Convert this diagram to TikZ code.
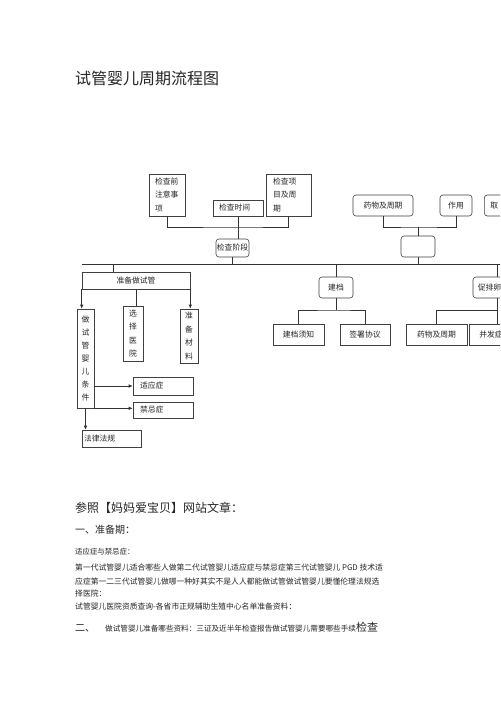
\documentclass[tikz,border=0pt]{standalone}
\usepackage{fontspec}
\setmainfont{Noto Sans CJK SC}
\usetikzlibrary{arrows.meta}

\begin{document}
\begin{tikzpicture}[x=1pt, y=-1pt,
    >={Latex[length=4pt,width=3.5pt]},
    every node/.style={text=black!85},
    caja/.style={draw=black!75, line width=0.6pt, inner sep=0pt, font=\fontsize{7.8}{13.4}\selectfont},
    cajar/.style={caja, rounded corners=3pt},
    linea/.style={black!80, line width=0.6pt},
    texto/.style={anchor=west, inner sep=0pt}]
  \useasboundingbox[fill=white] (0,0) rectangle (500,708);
  \clip (0,0) rectangle (500,708);

  % Titulo
  \node[texto, font=\fontsize{16}{16}\selectfont] (titulo) at (75,78) {试管婴儿周期流程图};

  % Rama superior izquierda
  \node[caja, minimum width=36pt, minimum height=42pt, text width=24pt, align=left] (zhuyi) at (167,195) {检查前\\注意事\\项};
  \node[caja, minimum width=50pt, minimum height=16pt, text width=38pt, align=left] (shijian) at (238,208) {检查时间};
  \node[caja, minimum width=45pt, minimum height=42pt, text width=31pt, align=left] (xiangmu) at (288.5,195) {检查项\\目及周\\期};
  \node[cajar, minimum width=33pt, minimum height=18pt] (jieduan) at (232.5,248) {检查阶段};
  \coordinate (jbar) at (238,227);
  \draw[linea] (zhuyi.south) |- (jbar) -| (xiangmu.south);
  \draw[linea] (shijian.south) -- (shijian.south |- jieduan.north);

  % Rama superior derecha
  \node[cajar, minimum width=60pt, minimum height=21pt] (yaowu) at (383,205.5) {药物及周期};
  \node[cajar, minimum width=32pt, minimum height=21pt] (zuoyong) at (456,205.5) {作用};
  \node[cajar, anchor=west, minimum width=40pt, minimum height=21pt, text width=28pt, align=left] (qu) at (484,205.5) {取};
  \node[cajar, minimum width=34pt, minimum height=21pt] (vacio) at (418,246.5) {};
  \coordinate (rbar) at (418,227);
  \draw[linea] (yaowu.south) |- (rbar) -| (zuoyong.south);
  \draw[linea] (rbar) -- (vacio.north);

  % Linea principal
  \coordinate (mainL) at (82,264);
  \coordinate (mainR) at (505,264);
  \draw[linea] (mainL) -- (mainR);
  \draw[linea] (jieduan.south) -- (jieduan.south |- mainL);
  \draw[linea] (vacio.south) -- (vacio.south |- mainL);

  % Preparacion
  \node[caja, minimum width=108pt, minimum height=17pt] (zhunbei) at (136,280.5) {准备做试管};
  \coordinate (b1) at (113,264);
  \draw[linea] (b1) -- (b1 |- zhunbei.north);
  \node[caja, minimum width=17pt, minimum height=99pt, align=center, font=\fontsize{7.8}{12.9}\selectfont] (tiaojian) at (85.5,358.5) {做\\试\\管\\婴\\儿\\条\\件};
  \node[caja, minimum width=20pt, minimum height=55pt, align=center] (yiyuan) at (133,333.5) {选\\择\\医\\院};
  \node[caja, minimum width=18pt, minimum height=54pt, align=center] (cailiao) at (189,336) {准\\备\\材\\料};
  \draw[linea, ->] (zhunbei.south west) -- (zhunbei.south west |- tiaojian.north);
  \draw[linea] (zhunbei.south) -- (zhunbei.south |- yiyuan.north);
  \draw[linea, ->] (zhunbei.south east) -- (zhunbei.south east |- cailiao.north);

  % Condiciones
  \node[caja, minimum width=60pt, minimum height=18pt, text width=46pt, align=left] (shiying) at (163,386) {适应症};
  \node[caja, minimum width=60pt, minimum height=16pt, text width=46pt, align=left] (jinji) at (163,410) {禁忌症};
  \node[caja, minimum width=59pt, minimum height=17pt, text width=55pt, align=left] (falv) at (111.5,438.5) {法律法规};
  \draw[linea, ->] (tiaojian.east |- shiying.west) -- (shiying.west);
  \draw[linea, ->] (tiaojian.south east) -- (tiaojian.south east -| jinji.west);
  \draw[linea, ->] (tiaojian.south) -- (tiaojian.south |- falv.north);

  % Archivo
  \node[cajar, minimum width=34pt, minimum height=21pt] (jiandang) at (336,287.5) {建档};
  \node[caja, minimum width=51pt, minimum height=21pt] (xuzhi) at (298.5,334.5) {建档须知};
  \node[caja, minimum width=50pt, minimum height=21pt] (xieyi) at (365,334.5) {签署协议};
  \coordinate (jbar2) at (336,310);
  \draw[linea] (jiandang.north |- mainL) -- (jiandang.north);
  \draw[linea] (jiandang.south) -- (jbar2);
  \draw[linea] (xuzhi.north) |- (jbar2) -| (xieyi.north);

  % Estimulacion (cortada a la derecha)
  \node[cajar, minimum width=33pt, minimum height=21pt] (cupai) at (489.5,287.5) {促排卵};
  \node[caja, minimum width=61pt, minimum height=21pt] (yaowu2) at (436.5,334.5) {药物及周期};
  \node[caja, minimum width=44pt, minimum height=21pt] (bingfa) at (491,334.5) {并发症};
  \coordinate (cbar) at (497,310);
  \draw[linea] (cbar |- mainL) -- (cbar |- cupai.north);
  \draw[linea] (cbar |- cupai.south) -- (cbar |- bingfa.north);
  \draw[linea] (yaowu2.north) |- (cbar);

  % Texto inferior
  \node[texto, font=\fontsize{12}{12}\selectfont] (t1) at (75,508) {参照【妈妈爱宝贝】网站文章：};
  \node[texto, font=\fontsize{10}{10}\selectfont] (t2) at (75,530) {一、准备期：};
  \node[texto, font=\fontsize{7.4}{7.4}\selectfont] (t3) at (75,552) {适应症与禁忌症：};
  \node[texto, font=\fontsize{7.8}{7.8}\selectfont] (t4) at (75,568) {第一代试管婴儿适合哪些人做第二代试管婴儿适应症与禁忌症第三代试管婴儿 PGD 技术适};
  \node[texto, font=\fontsize{7.8}{7.8}\selectfont] (t5) at (75,582) {应症第一二三代试管婴儿做哪一种好其实不是人人都能做试管做试管婴儿要懂伦理法规选};
  \node[texto, font=\fontsize{7.8}{7.8}\selectfont] (t6) at (75,594) {择医院：};
  \node[texto, font=\fontsize{7.8}{7.8}\selectfont] (t7) at (75,607) {试管婴儿医院资质查询-各省市正规辅助生殖中心名单准备资料：};
  \node[texto] (t8) at (75,627) {{\fontsize{10}{10}\selectfont 二、}\hspace{10pt}{\fontsize{7.6}{7.6}\selectfont 做试管婴儿准备哪些资料：三证及近半年检查报告做试管婴儿需要哪些手续}{\fontsize{11}{11}\selectfont 检查}};
\end{tikzpicture}
\end{document}
